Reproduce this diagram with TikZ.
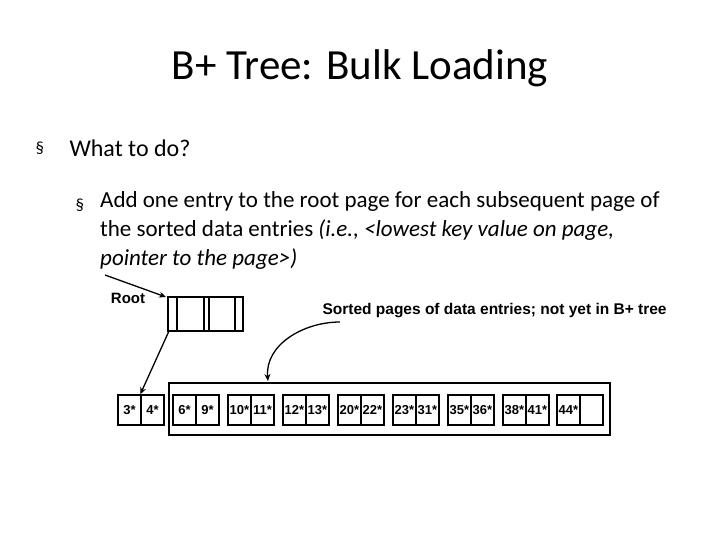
\documentclass[tikz,border=0pt]{standalone}
\usepackage{fontspec}
\setmainfont{Carlito}
\newfontfamily\arial{Liberation Sans}
\usetikzlibrary{arrows.meta}
\tikzset{
  cell/.style={draw,line width=1.4pt,minimum width=23pt,minimum height=30pt,inner sep=0pt,font=\arial\bfseries\fontsize{13}{14}\selectfont},
  ptr/.style={-{Stealth[length=7pt,width=6pt]},line width=1.3pt}
}
\begin{document}
\begin{tikzpicture}[x=1pt,y=-1pt]
  \useasboundingbox (0,0) rectangle (720,540);
  \node[font=\fontsize{43}{48}\selectfont] (title) at (360,68) {B+ Tree: Bulk Loading};
  \node[anchor=west,font=\fontsize{17}{20}\selectfont] (bul1) at (32,148) {\S};
  \node[anchor=west,font=\fontsize{24}{28}\selectfont] (b1) at (66,148) {What to do?};
  \node[anchor=west,font=\fontsize{17}{20}\selectfont] (bul2) at (72,205) {\S};
  \node[anchor=north west,align=left,inner sep=0pt,font=\fontsize{23}{29}\selectfont] (txt) at (100,191)
    {Add one entry to the root page for each subsequent page of\\ the sorted data entries \textit{(i.e., <lowest key value on page,}\\ \textit{pointer to the page>)}};

  % root page
  \draw[line width=1.4pt] (168,297) rectangle (243,331);
  \foreach \x in {177,204,209,235} \draw[line width=1.4pt] (\x,297) -- (\x,331);
  \coordinate (rootl) at (166,297);
  \coordinate (rootb) at (169,331);
  \coordinate (rin) at (105,275);
  \node[font=\arial\bfseries\fontsize{15}{17}\selectfont] (root) at (128,298) {Root};
  \node[anchor=west,font=\arial\bfseries\fontsize{15.5}{17}\selectfont] (sorted) at (319,311) {Sorted pages of data entries; not yet in B+ tree};

  % leaf pages
  \draw[line width=1.4pt] (169,383) rectangle (610,435);
  \foreach \x/\a/\b [count=\i] in {118/3*/4*,173/6*/9*,228/10*/11*,283/12*/13*,338/20*/22*,393/23*/31*,448/35*/36*,503/38*/41*,557/44*/}{
    \node[cell] (p\i a) at (\x+11.5,410) {\a};
    \node[cell] (p\i b) at (\x+34.5,410) {\b};
  }
  \draw[ptr] (rin) -- (rootl);
  \draw[ptr] (rootb) -- (p1b.north west);
  \draw[ptr] (340,322) to[out=180,in=95] (268,381);
\end{tikzpicture}
\end{document}
